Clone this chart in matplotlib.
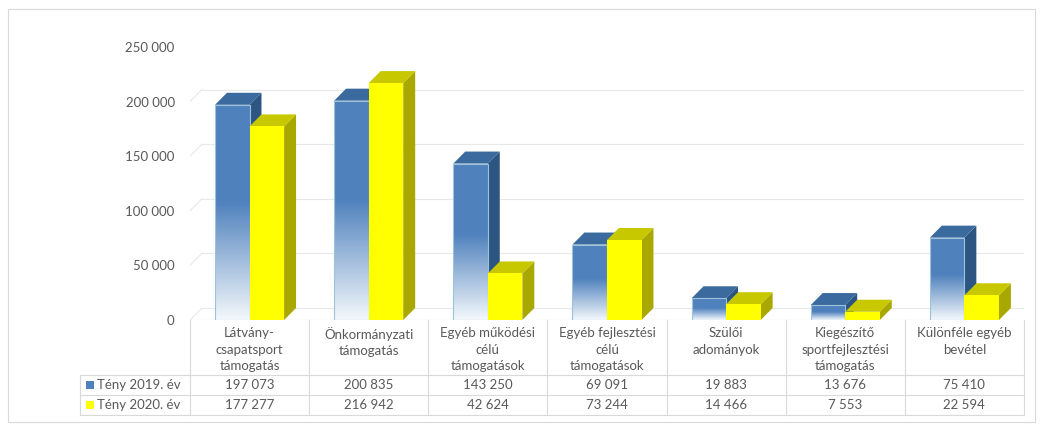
import numpy as np
import matplotlib.pyplot as plt
from matplotlib.patches import Polygon
from matplotlib.colors import LinearSegmentedColormap

plt.rcParams['font.family'] = ['Lato', 'DejaVu Sans']

categories = ["Látvány-\ncsapatsport\ntámogatás", "Önkormányzati\ntámogatás",
              "Egyéb működési\ncélú\ntámogatások", "Egyéb fejlesztési\ncélú\ntámogatások",
              "Szülői\nadományok", "Kiegészítő\nsportfejlesztési\ntámogatás",
              "Különféle egyéb\nbevétel"]
values_2019 = [197073, 200835, 143250, 69091, 19883, 13676, 75410]
values_2020 = [177277, 216942, 42624, 73244, 14466, 7553, 22594]
series = ["Tény 2019. év", "Tény 2020. év"]
yticks = [0, 50000, 100000, 150000, 200000, 250000]

W, H = 1044, 428
fig = plt.figure(figsize=(W / 100, H / 100), dpi=100)
ax = fig.add_axes([190 / W, 108 / H, 834 / W, 273 / H])
ax.set_xlim(-0.5, len(categories) - 0.5)
ax.set_ylim(0, 250000)

txt = "#595959"
# keret
fig.patches.append(plt.Rectangle((8 / W, 6 / H), 1027 / W, 413 / H, transform=fig.transFigure,
                                 fill=False, ec="#d9d9d9", lw=0.8))

dx, dy = 0.1, 11000
# rácsvonalak (hátul)
for t in yticks:
    ax.plot([-0.5 + dx, len(categories) - 0.5], [t + dy, t + dy], color="#e8e8e8", lw=0.8, zorder=0)
    ax.plot([-0.5, -0.5 + dx], [t, t + dy], color="#e8e8e8", lw=0.8, zorder=0)
ax.plot([-0.5, len(categories) - 0.5 - dx], [0, 0], color="#d9d9d9", lw=0.8, zorder=0)

ax.set_yticks(yticks)
ax.set_yticklabels([f"{t:,}".replace(",", " ") for t in yticks], color=txt, fontsize=9.5)
ax.tick_params(axis="y", length=0, pad=11)
ax.set_xticks([])
for s in ax.spines.values():
    s.set_visible(False)

bw = 0.29
x = np.arange(len(categories))
blue_cmap = LinearSegmentedColormap.from_list("b", [(0, "#f2f7fb"), (0.55, "#4f81bd"), (1, "#4f81bd")])

def draw_3d(xl, v, side, top, z):
    ax.add_patch(Polygon([(xl + bw, 0), (xl + bw + dx, dy), (xl + bw + dx, v + dy), (xl + bw, v)],
                         closed=True, fc=side, ec="none", zorder=z))
    ax.add_patch(Polygon([(xl, v), (xl + dx, v + dy), (xl + bw + dx, v + dy), (xl + bw, v)],
                         closed=True, fc=top, ec="none", zorder=z))

for i in x:
    # 2019 - kék, átmenetes
    xl = i - bw
    v = values_2019[i]
    draw_3d(xl, v, "#2c5582", "#3b6a9e", 2)
    bars = ax.bar(xl, v, width=bw, align="edge", color="none", ec="#9cc3da", lw=0.8, zorder=3)
    grad = np.linspace(0, 1, 100).reshape(-1, 1)
    im = ax.imshow(grad, extent=[xl, xl + bw, 0, v], origin="lower", cmap=blue_cmap,
                   aspect="auto", zorder=2.5)
    im.set_clip_path(bars[0])
    # 2020 - sárga
    xl = i
    v = values_2020[i]
    draw_3d(xl, v, "#a8a800", "#c8c800", 4)
    ax.bar(xl, v, width=bw, align="edge", color="#ffff00", ec="none", zorder=5)
ax.set_xlim(-0.5, len(categories) - 0.5)
ax.set_ylim(0, 250000)

# adattábla
def px(xp, yp):
    return xp / W, 1 - yp / H

line_c = "#d9d9d9"
col_edges = [190 + k * 834 / len(categories) for k in range(len(categories) + 1)]
for xe in col_edges:
    fig.add_artist(plt.Line2D([xe / W, xe / W], [1 - 320 / H, 1 - 415 / H], color=line_c, lw=0.8))
for yp in [375, 395, 415]:
    fig.add_artist(plt.Line2D([80 / W, 1024 / W], [1 - yp / H, 1 - yp / H], color=line_c, lw=0.8))
fig.add_artist(plt.Line2D([80 / W, 80 / W], [1 - 375 / H, 1 - 415 / H], color=line_c, lw=0.8))

for k, c in enumerate(categories):
    cx = (col_edges[k] + col_edges[k + 1]) / 2
    fig.text(*px(cx, 327), c, ha="center", va="top", fontsize=9.5, color=txt, linespacing=1.45)
    fig.text(*px(cx, 385), f"{values_2019[k]:,}".replace(",", " "), ha="center", va="center",
             fontsize=9.5, color=txt)
    fig.text(*px(cx, 405), f"{values_2020[k]:,}".replace(",", " "), ha="center", va="center",
             fontsize=9.5, color=txt)

for yp, name, col in [(385, series[0], "#4f81bd"), (405, series[1], "#ffff00")]:
    fig.patches.append(plt.Rectangle(((86) / W, 1 - (yp + 4) / H), 8 / W, 8 / H,
                                     transform=fig.transFigure, fc=col, ec="none"))
    fig.text(*px(97, yp), name, ha="left", va="center", fontsize=9.5, color=txt)

fig.savefig("out.png", dpi=100)
